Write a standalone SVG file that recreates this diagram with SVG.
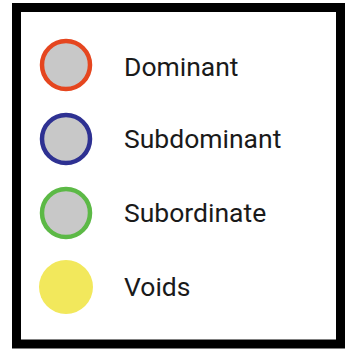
<svg xmlns="http://www.w3.org/2000/svg" width="350" height="350" viewBox="0 0 350 350">
<style>
.lbl{font-family:Roboto,"Liberation Sans",sans-serif;font-size:26.5px;fill:#1a1a1a}
.dot{fill:#c8c8c8;stroke-width:4.5}
</style>
<rect x="0" y="0" width="350" height="350" fill="#ffffff"/>
<rect x="16.5" y="7.5" width="324" height="336.5" fill="#ffffff" stroke="#000000" stroke-width="9"/>
<g id="dominant">
<circle class="dot" cx="66" cy="65" r="24" stroke="#e5461f"/>
<text class="lbl" x="124" y="76">Dominant</text>
</g>
<g id="subdominant">
<circle class="dot" cx="66" cy="139" r="24" stroke="#2e3192"/>
<text class="lbl" x="124" y="148">Subdominant</text>
</g>
<g id="subordinate">
<circle class="dot" cx="66" cy="213" r="24" stroke="#5cb946"/>
<text class="lbl" x="124" y="222">Subordinate</text>
</g>
<g id="voids">
<circle cx="66" cy="287" r="27" fill="#f2e85c"/>
<text class="lbl" x="124" y="296">Voids</text>
</g>
</svg>
